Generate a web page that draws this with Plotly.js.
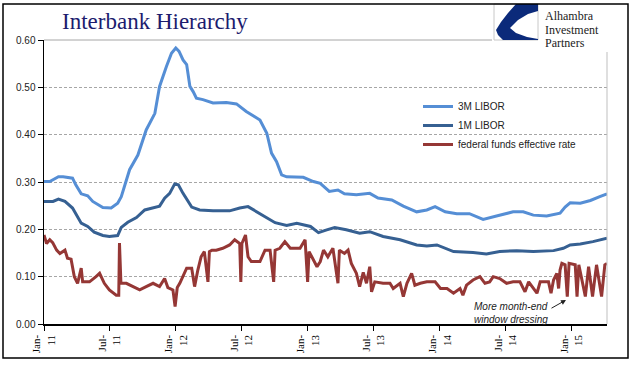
<!DOCTYPE html>
<html><head><meta charset="utf-8">
<script src="https://cdn.plot.ly/plotly-3.0.1.min.js"></script>
<style>html,body{margin:0;padding:0;background:#fff;} #chart{width:641px;height:375px;}</style>
</head><body><div id="chart"></div>
<script>
const seriesNames = ['3M LIBOR', '1M LIBOR', 'federal funds effective rate'];

const dates3M = ['2011-01-01','2011-01-17','2011-02-10','2011-02-23','2011-03-21','2011-03-30','2011-04-14','2011-05-02','2011-05-16','2011-06-13','2011-07-06','2011-07-24','2011-08-03','2011-08-26','2011-09-18','2011-10-11','2011-11-04','2011-11-17','2011-12-06','2011-12-20','2012-01-01','2012-01-10','2012-01-21','2012-01-31','2012-02-09','2012-02-18','2012-02-27','2012-03-16','2012-04-13','2012-05-20','2012-06-17','2012-07-14','2012-08-21','2012-09-09','2012-09-22','2012-10-06','2012-10-20','2012-11-03','2012-12-19','2013-01-16','2013-02-04','2013-03-01','2013-03-25','2013-04-12','2013-05-15','2013-06-21','2013-07-14','2013-08-21','2013-09-22','2013-10-29','2013-11-26','2013-12-19','2014-01-16','2014-02-17','2014-03-24','2014-05-01','2014-06-07','2014-07-23','2014-08-20','2014-09-17','2014-10-24','2014-11-30','2014-12-14','2014-12-28','2015-01-25','2015-02-22','2015-03-20','2015-04-09'];
const libor3M = [0.301,0.301,0.311,0.311,0.308,0.294,0.275,0.271,0.259,0.246,0.245,0.255,0.269,0.326,0.357,0.410,0.445,0.502,0.544,0.572,0.583,0.576,0.558,0.548,0.502,0.491,0.477,0.474,0.467,0.468,0.465,0.449,0.431,0.403,0.361,0.343,0.315,0.311,0.310,0.301,0.297,0.280,0.283,0.275,0.273,0.276,0.266,0.262,0.249,0.237,0.241,0.248,0.237,0.233,0.233,0.221,0.228,0.237,0.237,0.230,0.228,0.234,0.247,0.256,0.255,0.261,0.269,0.275];

const dates1M = ['2011-01-01','2011-01-26','2011-02-10','2011-02-28','2011-03-21','2011-04-04','2011-04-14','2011-05-02','2011-05-20','2011-06-13','2011-07-01','2011-07-24','2011-08-03','2011-08-21','2011-09-14','2011-10-07','2011-10-30','2011-11-17','2011-12-01','2011-12-15','2011-12-29','2012-01-08','2012-01-21','2012-02-14','2012-03-07','2012-04-13','2012-05-29','2012-06-26','2012-07-19','2012-08-12','2012-09-09','2012-10-02','2012-11-03','2012-12-01','2013-01-08','2013-01-30','2013-02-22','2013-03-16','2013-04-17','2013-05-24','2013-06-21','2013-07-28','2013-09-13','2013-10-29','2013-11-26','2013-12-24','2014-02-08','2014-04-03','2014-05-10','2014-06-16','2014-08-02','2014-09-17','2014-11-12','2014-12-09','2014-12-28','2015-01-25','2015-03-01','2015-04-09'];
const libor1M = [0.259,0.259,0.264,0.259,0.245,0.227,0.213,0.206,0.194,0.187,0.185,0.187,0.204,0.215,0.225,0.241,0.245,0.249,0.266,0.276,0.296,0.294,0.276,0.247,0.241,0.239,0.239,0.245,0.248,0.237,0.223,0.214,0.208,0.213,0.206,0.193,0.199,0.204,0.199,0.192,0.195,0.185,0.178,0.167,0.165,0.167,0.153,0.151,0.148,0.153,0.155,0.153,0.155,0.160,0.167,0.169,0.174,0.181];

const datesFF = ['2011-01-01','2011-01-08','2011-01-17','2011-01-25','2011-02-05','2011-02-14','2011-02-28','2011-03-07','2011-03-17','2011-03-26','2011-04-04','2011-04-14','2011-04-18','2011-05-07','2011-05-25','2011-06-04','2011-06-17','2011-07-01','2011-07-20','2011-07-27','2011-07-29','2011-08-02','2011-08-17','2011-09-04','2011-09-23','2011-10-11','2011-10-30','2011-11-17','2011-12-01','2011-12-10','2011-12-24','2011-12-30','2012-01-05','2012-01-12','2012-01-21','2012-01-31','2012-02-14','2012-02-22','2012-03-02','2012-03-11','2012-03-20','2012-03-30','2012-04-03','2012-04-10','2012-04-22','2012-05-10','2012-05-29','2012-06-12','2012-06-26','2012-06-29','2012-07-02','2012-07-12','2012-07-19','2012-07-28','2012-08-21','2012-09-04','2012-09-18','2012-09-28','2012-10-02','2012-10-15','2012-10-29','2012-11-13','2012-12-10','2012-12-24','2012-12-31','2013-01-04','2013-01-26','2013-02-04','2013-02-13','2013-02-25','2013-03-11','2013-03-25','2013-03-29','2013-04-12','2013-04-22','2013-05-01','2013-05-15','2013-05-24','2013-06-03','2013-06-12','2013-06-21','2013-06-26','2013-07-05','2013-07-28','2013-08-16','2013-08-25','2013-09-13','2013-09-22','2013-10-02','2013-10-15','2013-10-24','2013-11-08','2013-11-26','2013-12-19','2014-01-03','2014-01-21','2014-02-08','2014-02-26','2014-03-06','2014-03-16','2014-04-03','2014-04-22','2014-05-06','2014-05-19','2014-05-29','2014-06-16','2014-07-05','2014-07-23','2014-08-11','2014-08-25','2014-09-04','2014-09-27','2014-10-06','2014-10-29','2014-11-05','2014-11-12','2014-11-21','2014-11-26','2014-11-30','2014-12-05','2014-12-14','2014-12-20','2014-12-25','2015-01-11','2015-01-16','2015-01-21','2015-02-08','2015-02-17','2015-02-28','2015-03-11','2015-03-25','2015-04-03','2015-04-09'];
const fedFunds = [0.188,0.170,0.178,0.172,0.156,0.149,0.156,0.139,0.137,0.100,0.086,0.118,0.089,0.089,0.100,0.107,0.086,0.072,0.061,0.061,0.171,0.086,0.086,0.079,0.072,0.079,0.086,0.079,0.096,0.077,0.072,0.037,0.077,0.086,0.100,0.118,0.118,0.079,0.114,0.142,0.153,0.089,0.153,0.156,0.156,0.160,0.167,0.178,0.170,0.089,0.170,0.188,0.142,0.132,0.132,0.156,0.156,0.089,0.156,0.160,0.174,0.160,0.160,0.178,0.089,0.153,0.121,0.132,0.156,0.142,0.160,0.086,0.156,0.149,0.156,0.128,0.107,0.079,0.109,0.086,0.121,0.068,0.089,0.086,0.086,0.075,0.086,0.058,0.086,0.107,0.082,0.086,0.089,0.089,0.075,0.075,0.065,0.075,0.061,0.082,0.093,0.100,0.086,0.089,0.100,0.096,0.086,0.089,0.089,0.068,0.089,0.065,0.089,0.089,0.065,0.093,0.107,0.075,0.114,0.128,0.125,0.058,0.128,0.125,0.058,0.125,0.058,0.121,0.058,0.125,0.058,0.125,0.128];

const tickDates = ['2011-01-01','2011-07-01','2012-01-01','2012-07-01','2013-01-01','2013-07-01','2014-01-01','2014-07-01','2015-01-01'];
const tickMonths = ['Jan-','Jul-','Jan-','Jul-','Jan-','Jul-','Jan-','Jul-','Jan-'];
const tickYears = ['11','11','12','12','13','13','14','14','15'];
const xRange = ['2011-01-01','2015-04-09'];

const colors = ['#558ED5', '#366092', '#953735'];

// layout helpers: pixel -> paper
const L = 44, T = 40, W = 563, H = 284;
const px = v => (v - L) / W;
const py = v => (T + H - v) / H;

const traces = [
  {x: dates3M, y: libor3M, name: seriesNames[0], type: 'scatter', mode: 'lines', line: {color: colors[0], width: 3}},
  {x: dates1M, y: libor1M, name: seriesNames[1], type: 'scatter', mode: 'lines', line: {color: colors[1], width: 3}},
  {x: datesFF, y: fedFunds, name: seriesNames[2], type: 'scatter', mode: 'lines', line: {color: colors[2], width: 3}}
];

const logoPath = [[516,4],[538,4],[538,11],[528,14],[518,20],[510,28],[516,33],[527,37],[538,39],[538,40],[503,40],[498,35],[496,30],[501,22],[508,13]];
const pathStr = 'M' + logoPath.map(p => px(p[0]) + ',' + py(p[1])).join(' L') + ' Z';

const layout = {
  width: 641, height: 375,
  margin: {l: L, r: 641 - L - W, t: T, b: 375 - T - H, pad: 0},
  paper_bgcolor: '#ffffff', plot_bgcolor: '#ffffff',
  showlegend: true,
  title: {text: 'Interbank Hierarchy', x: 62/641, xanchor: 'left', y: 1 - 21/375, yanchor: 'middle',
          font: {family: 'Liberation Serif, serif', size: 23, color: '#1c1c6e'}},
  xaxis: {type: 'date', range: xRange, tickmode: 'array', tickvals: tickDates,
          ticktext: tickMonths.map((m, i) => m + '<br>' + tickYears[i]), tickangle: -90,
          ticks: 'outside', ticklen: 5, tickcolor: '#000', tickwidth: 1,
          showline: true, linecolor: '#000', linewidth: 1.5, showgrid: false, zeroline: false,
          tickfont: {family: 'Liberation Serif, serif', size: 11, color: '#000'}},
  yaxis: {range: [0, 0.6], tickmode: 'linear', tick0: 0, dtick: 0.1, tickformat: '.2f',
          ticks: 'outside', ticklen: 5, tickcolor: '#000', showline: true, linecolor: '#000', linewidth: 1.5,
          showgrid: true, gridcolor: '#a6a6a6', gridwidth: 1, griddash: '3px,2px', zeroline: false,
          tickfont: {family: 'Liberation Sans, Arial, sans-serif', size: 10, color: '#222'}},
  legend: {x: px(418), y: py(92), xanchor: 'left', yanchor: 'top', bgcolor: 'rgba(0,0,0,0)',
           font: {family: 'Liberation Sans, Arial, sans-serif', size: 10, color: '#222'},
           itemwidth: 30, tracegroupgap: 0},
  shapes: [
    {type: 'line', xref: 'paper', yref: 'paper', x0: 0, x1: px(492), y0: 1, y1: 1, line: {color: '#a6a6a6', width: 1}, layer: 'above'},
    {type: 'line', xref: 'paper', yref: 'paper', x0: 1, x1: 1, y0: 0, y1: py(52), line: {color: '#bfbfbf', width: 1}},
    {type: 'rect', xref: 'paper', yref: 'paper', x0: px(492), x1: px(622), y0: py(50), y1: py(5), fillcolor: '#fff', line: {width: 0}, layer: 'above'},
    {type: 'rect', xref: 'paper', yref: 'paper', x0: px(494), x1: px(538), y0: py(40), y1: py(4), fillcolor: '#fff', line: {color: '#c8c8c8', width: 1}, layer: 'above'},
    {type: 'path', xref: 'paper', yref: 'paper', path: pathStr, fillcolor: '#0b2a7a', line: {width: 0}, layer: 'above'},
    {type: 'rect', xref: 'paper', yref: 'paper', x0: px(3), x1: px(628), y0: py(358), y1: py(4), line: {color: '#000', width: 1.5}, layer: 'above'}
  ],
  annotations: [
    {xref: 'paper', yref: 'paper', x: px(543), y: py(16), xanchor: 'left', yanchor: 'middle', showarrow: false, text: 'Alhambra', font: {family: 'Liberation Serif, serif', size: 12, color: '#222'}},
    {xref: 'paper', yref: 'paper', x: px(543), y: py(29.5), xanchor: 'left', yanchor: 'middle', showarrow: false, text: 'Investment', font: {family: 'Liberation Serif, serif', size: 12, color: '#222'}},
    {xref: 'paper', yref: 'paper', x: px(543), y: py(43), xanchor: 'left', yanchor: 'middle', showarrow: false, text: 'Partners', font: {family: 'Liberation Serif, serif', size: 12, color: '#222'}},
    {xref: 'paper', yref: 'paper', x: px(472), y: py(313), xanchor: 'left', yanchor: 'middle', align: 'left', showarrow: false,
     text: '<i>More month-end</i><br><i>window dressing</i>', font: {family: 'Liberation Sans, Arial, sans-serif', size: 10, color: '#222'}},
    {xref: 'paper', yref: 'paper', x: px(566), y: py(300), ax: -16, ay: 9, showarrow: true, arrowhead: 2, arrowsize: 1, arrowwidth: 1, arrowcolor: '#222', text: ''}
  ]
};

Plotly.newPlot('chart', traces, layout, {staticPlot: true, displayModeBar: false});
</script>
</body></html>
